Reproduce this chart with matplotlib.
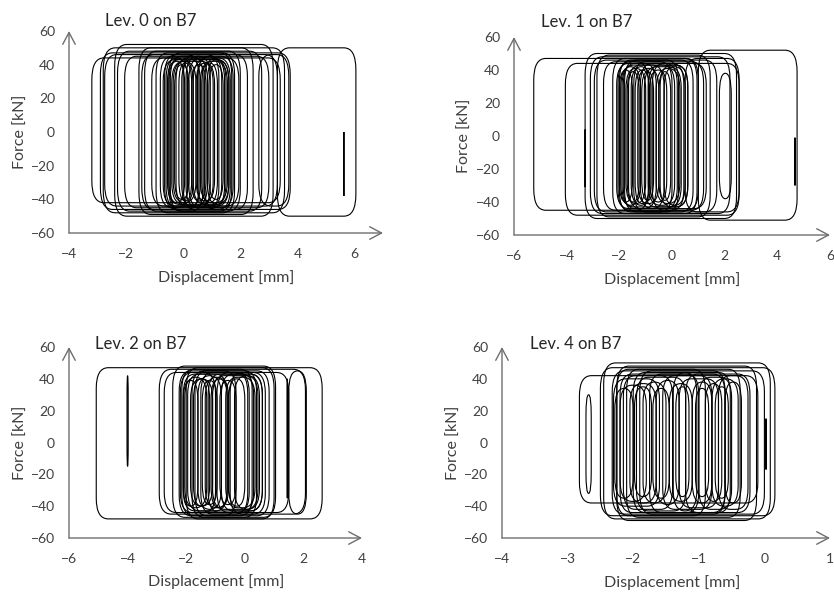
import matplotlib
matplotlib.use("Agg")
import matplotlib.pyplot as plt
from matplotlib.patches import FancyBboxPatch

plt.rcParams['font.family'] = ['Lato', 'DejaVu Sans']

# each loop: (left disp, right disp, top force, bottom force)  [mm, kN]
lev0_loops = [
    (-3.2, 3.4, 44, -42), (-2.9, 3.75, 47, -46), (-2.8, 3.55, 50, -48),
    (-2.75, 3.3, 46, -44), (-2.4, 3.15, 52, -50), (-2.3, 2.75, 48, -47),
    (-2.05, 3.0, 45, -45), (-1.55, 2.45, 50, -49), (-1.45, 2.25, 46, -46),
    (-1.35, 2.0, 48, -47), (-1.1, 1.95, 44, -44), (-0.95, 1.8, 47, -48),
    (-0.8, 1.75, 45, -45), (-0.7, 1.6, 43, -44), (-0.65, 0.55, 46, -46),
    (-0.55, 0.35, 43, -43), (-0.45, 0.7, 45, -47), (-0.35, 0.45, 42, -42),
    (-0.25, 0.85, 44, -44), (-0.15, 0.3, 41, -41), (-0.6, 0.15, 44, -45),
    (0.0, 1.25, 46, -46), (0.2, 1.45, 44, -45), (0.35, 1.6, 43, -43),
    (0.5, 1.35, 45, -44), (0.6, 1.55, 42, -42), (0.75, 1.65, 44, -46),
    (0.45, 1.1, 41, -41), (0.85, 1.5, 43, -43), (-0.4, 1.05, 42, -43),
    (0.1, 0.95, 45, -45), (-0.5, 1.7, 47, -47), (2.65, 3.7, 46, -44),
    (-0.3, 0.2, 40, -40), (-0.05, 0.6, 43, -44), (0.3, 0.8, 40, -41),
    (0.65, 1.2, 41, -42), (0.9, 1.4, 40, -40), (-0.5, 0.05, 42, -42),
    (3.3, 6.05, 50, -50), (5.62, 5.64, 0, -38),
]
lev1_loops = [
    (-5.25, 1.0, 47, -45), (-4.05, 2.55, 44, -48), (-3.3, 2.45, 50, -50),
    (-3.1, 2.2, 48, -47), (-2.95, 1.7, 46, -46), (-2.85, 1.45, 49, -49),
    (-2.6, 1.2, 45, -45), (-2.25, 0.95, 47, -47), (-2.1, 1.3, 44, -44),
    (-2.0, 0.8, 46, -46), (-1.9, 0.6, 43, -43), (-2.05, -0.9, 45, -45),
    (-1.95, -1.2, 42, -42), (-1.85, -0.6, 44, -44), (-1.75, -1.0, 41, -41),
    (-1.65, -0.3, 43, -44), (-1.55, -0.8, 42, -42), (-1.45, 0.0, 45, -46),
    (-1.3, -0.5, 41, -41), (-1.2, 0.2, 44, -44), (-1.05, 0.35, 42, -43),
    (-0.9, 0.1, 43, -42), (-0.75, 0.45, 44, -45), (-0.6, 0.3, 41, -41),
    (-0.45, 0.6, 43, -43), (-0.3, 0.5, 42, -42), (-1.8, 0.25, 46, -46),
    (-2.0, -1.5, 40, -40), (-1.7, -1.25, 39, -40), (-1.4, -0.85, 40, -41),
    (-1.15, -0.7, 39, -39), (-0.85, -0.2, 40, -40), (-0.5, -0.05, 39, -39),
    (1.8, 2.25, 38, -38), (0.5, 2.55, 47, -46), (1.0, 4.75, 52, -51),
    (-3.31, -3.29, 4, -31), (4.66, 4.68, -1, -30),
]
lev2_loops = [
    (-5.07, 2.64, 47, -48), (-2.92, 2.07, 46, -45), (-2.75, 1.5, 44, -44),
    (-2.46, 1.05, 48, -47), (-2.24, 0.83, 45, -46), (-2.1, 0.6, 43, -43),
    (-2.0, 1.0, 47, -48), (-2.2, -1.0, 44, -44), (-2.05, -1.3, 41, -41),
    (-1.95, -0.6, 43, -43), (-1.85, -1.1, 40, -40), (-1.7, -0.3, 45, -46),
    (-1.6, -0.8, 42, -42), (-1.5, 0.1, 44, -45), (-1.35, -0.55, 41, -41),
    (-1.25, 0.3, 43, -44), (-1.1, 0.5, 42, -42), (-0.95, 0.15, 44, -44),
    (-0.8, 0.6, 43, -43), (-0.65, 0.35, 41, -41), (-0.5, 0.7, 44, -45),
    (-0.35, 0.45, 42, -42), (-2.15, 0.25, 46, -46), (-1.8, 0.4, 45, -47),
    (-2.1, -1.6, 39, -40), (-1.75, -1.2, 40, -40), (-1.45, -0.95, 39, -39),
    (-1.15, -0.6, 40, -41), (-0.85, -0.3, 39, -39), (-0.55, 0.0, 40, -40),
    (1.5, 2.1, 45, -45), (-4.02, -3.98, 42, -15), (1.44, 1.46, 40, -35),
]
lev4_loops = [
    (-2.82, -0.1, 42, -38), (-2.5, 0.16, 47, -46), (-2.45, 0.09, 50, -48),
    (-2.32, 0.0, 45, -45), (-2.25, -0.12, 48, -49), (-2.2, -0.22, 43, -44),
    (-2.1, -0.37, 46, -47), (-2.0, -0.52, 44, -44), (-2.3, -1.6, 40, -40),
    (-2.2, -1.8, 36, -37), (-2.15, -1.4, 42, -42), (-2.05, -1.65, 37, -38),
    (-1.95, -1.2, 41, -43), (-1.85, -1.5, 38, -38), (-1.75, -1.0, 43, -44),
    (-1.65, -1.3, 39, -39), (-1.55, -0.8, 42, -42), (-1.45, -1.1, 37, -37),
    (-1.39, -1.03, 44, -43), (-1.3, -0.7, 40, -41), (-1.2, -0.6, 43, -44),
    (-1.1, -0.8, 38, -38), (-1.0, -0.5, 41, -42), (-0.9, -0.65, 37, -37),
    (-0.8, -0.4, 40, -40), (-0.7, -0.25, 42, -42), (-0.6, -0.35, 38, -38),
    (-2.25, -0.9, 46, -46), (-1.9, -0.6, 45, -45), (-2.72, -2.64, 30, -32),
    (-2.28, -2.0, 34, -35), (-1.98, -1.72, 35, -34), (-1.7, -1.45, 34, -35),
    (-1.35, -1.15, 35, -34), (-1.05, -0.85, 34, -34), (-0.75, -0.55, 35, -35),
    (0.02, 0.03, 15, -17),
]

titles = ["Lev. 0 on B7", "Lev. 1 on B7", "Lev. 2 on B7", "Lev. 4 on B7"]
all_loops = [lev0_loops, lev1_loops, lev2_loops, lev4_loops]
x_limits = [(-4, 7), (-6, 6), (-6, 4), (-4, 1)]
x_ticks = [[-4, -2, 0, 2, 4, 6], [-6, -4, -2, 0, 2, 4, 6],
           [-6, -4, -2, 0, 2, 4], [-4, -3, -2, -1, 0, 1]]
y_ticks = [-60, -40, -20, 0, 20, 40, 60]

# layout in pixels: axes box (left, top, right, bottom), title left/centre,
# ylabel x, xlabel centre
W, H = 834, 592
boxes = [(69, 31, 383, 233), (514, 37, 830, 235), (69, 347, 362, 538), (502, 347, 830, 538)]
title_pos = [(105, 21), (541, 22), (95, 344), (530, 344)]
ylab_x = [21, 465, 21, 454]
xlab_pos = [(226, 278), (672, 280), (216, 582), (672, 583)]
corner_px = 12  # horizontal rounding of loop corners
corner_kN = 13  # vertical rounding

fig = plt.figure(figsize=(W / 100, H / 100), dpi=100)
txt = '#404040'
axc = '#6e6e6e'

for i in range(4):
    l, t, r, b = boxes[i]
    ax = fig.add_axes([l / W, 1 - b / H, (r - l) / W, (b - t) / H])
    ax.set_xlim(*x_limits[i])
    ax.set_ylim(-60, 60)
    ax.set_xticks(x_ticks[i])
    ax.set_yticks(y_ticks)
    for s in ax.spines.values():
        s.set_visible(False)
    ax.tick_params(length=0, labelsize=10, colors=txt)
    ax.tick_params(axis='x', pad=11)
    ax.tick_params(axis='y', pad=10)
    ax.patch.set_alpha(0)

    # axis arrows
    arr = dict(arrowstyle='->,head_length=0.85,head_width=0.45', color=axc, lw=1.0,
               shrinkA=0, shrinkB=0)
    ax.annotate('', xy=(1, 0), xytext=(0, 0), xycoords='axes fraction', arrowprops=arr,
                annotation_clip=False)
    ax.annotate('', xy=(0, 1), xytext=(0, 0), xycoords='axes fraction', arrowprops=arr,
                annotation_clip=False)

    x0, x1 = x_limits[i]
    rx_base = corner_px * (x1 - x0) / (r - l)
    for (xl, xr, ft, fb) in all_loops[i]:
        w = xr - xl
        h = ft - fb
        rx = min(rx_base, w / 2)
        ry = min(corner_kN, h / 2)
        p = FancyBboxPatch((xl, fb), w, h,
                           boxstyle=f"round,pad=0,rounding_size={rx}",
                           mutation_aspect=ry / rx, fill=False,
                           ec='black', lw=0.8, clip_on=False)
        ax.add_patch(p)

    fig.text(title_pos[i][0] / W, 1 - title_pos[i][1] / H, titles[i],
             fontsize=12, color='#262626', ha='left', va='center')
    fig.text(ylab_x[i] / W, 1 - ((t + b) / 2) / H, 'Force [kN]', rotation=90,
             fontsize=11.5, color=txt, ha='center', va='center')
    fig.text(xlab_pos[i][0] / W, 1 - xlab_pos[i][1] / H, 'Displacement [mm]',
             fontsize=11.5, color=txt, ha='center', va='center')

fig.savefig('out.png', dpi=100)
